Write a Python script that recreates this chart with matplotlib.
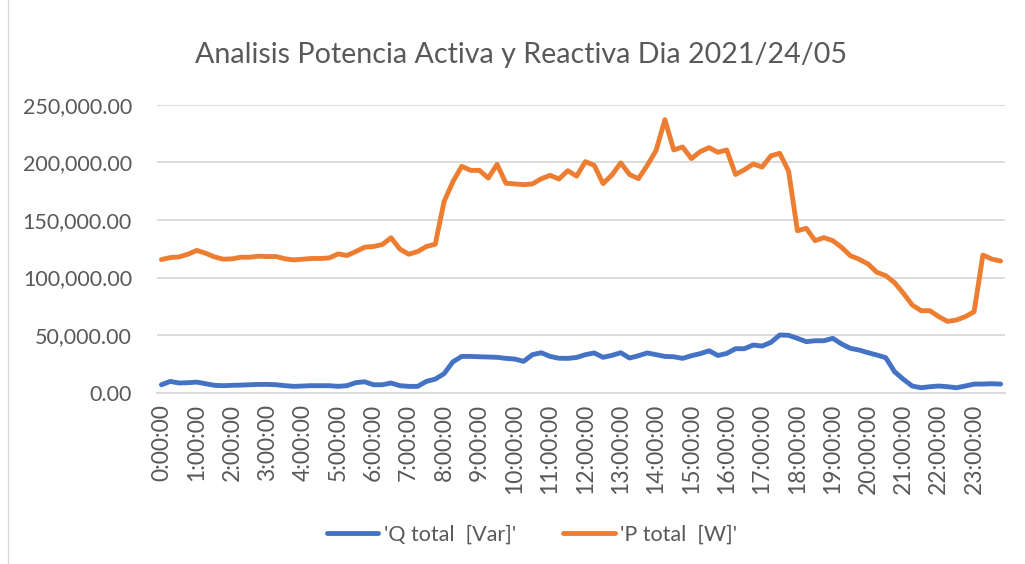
import matplotlib
matplotlib.use("Agg")
import matplotlib.pyplot as plt
from matplotlib.ticker import FuncFormatter
from matplotlib.lines import Line2D

plt.rcParams['font.family'] = ['Lato', 'DejaVu Sans']

# 15-minute readings, 0:00 .. 23:45
p_total = [115600, 117300, 117900, 120200, 123500, 121100, 117900, 115900,
           116200, 117600, 117600, 118500, 118200, 118200, 116200, 115300,
           115900, 116500, 116500, 117000, 120500, 119100, 122500, 126300,
           126900, 128600, 134500, 124600, 120200, 122500, 126900, 128900,
           165900, 183200, 196500, 193000, 193000, 186300, 198200, 181800,
           181200, 180600, 181200, 185700, 188700, 185500, 192700, 188000,
           200600, 197300, 181500, 189000, 199500, 189400, 185800, 197300,
           210300, 237000, 210700, 213300, 203200, 209300, 212700, 208700,
           210700, 189400, 193600, 198500, 195900, 205600, 207800, 192300,
           140600, 142700, 132000, 134600, 132000, 126200, 118900, 115800,
           111700, 104500, 101600, 95500, 86300, 76100, 71200, 71200,
           66000, 61900, 63100, 66000, 70300, 119500, 116000, 114300]

q_total = [6900, 9800, 8400, 8700, 9200, 7800, 6400, 6100,
           6400, 6600, 6900, 7200, 7200, 6900, 6100, 5500,
           5800, 6100, 6100, 6100, 5500, 6100, 8700, 9500,
           6900, 6900, 8400, 6100, 5500, 5500, 9800, 11800,
           16500, 26800, 31500, 31500, 31200, 31000, 30700, 29800,
           29200, 27200, 33000, 34700, 31500, 29900, 29800, 30600,
           33000, 34500, 30700, 32400, 34700, 30100, 32100, 34500,
           33000, 31500, 31200, 29800, 32100, 33900, 36400, 32300,
           34100, 38200, 38200, 41400, 40500, 43700, 50100, 49800,
           47200, 44300, 45100, 45100, 47200, 42300, 38500, 37000,
           34700, 32700, 30400, 18200, 11600, 5800, 4300, 5200,
           5800, 5200, 4300, 5800, 7500, 7500, 7800, 7500]

hour_labels = ["%d:00:00" % h for h in range(24)]

title = "Analisis Potencia Activa y Reactiva Dia 2021/24/05"
q_label = "'Q total  [Var]'"
p_label = "'P total  [W]'"

blue = "#4472C4"
orange = "#ED7D31"
text_grey = "#595959"
grid_grey = "#D9D9D9"

fig = plt.figure(figsize=(10.25, 5.64), dpi=100)
ax = fig.add_axes([157 / 1025, 1 - 392.7 / 564, 848 / 1025, 288 / 564])

x = list(range(len(p_total)))
ax.plot(x, q_total, color=blue, lw=3.5, solid_capstyle='round', solid_joinstyle='round')
ax.plot(x, p_total, color=orange, lw=3.5, solid_capstyle='round', solid_joinstyle='round')

ax.set_xlim(-0.5, len(p_total) - 0.5)
ax.set_ylim(0, 250000)
ax.set_yticks(range(0, 250001, 50000))
ax.yaxis.set_major_formatter(FuncFormatter(lambda v, pos: "{:,.2f}".format(v)))
ax.set_xticks(range(0, len(p_total), 4))
ax.set_xticklabels(hour_labels, rotation=90)

ax.grid(axis='y', color=grid_grey, lw=1.3)
ax.set_axisbelow(True)
for s in ['top', 'right', 'left']:
    ax.spines[s].set_visible(False)
ax.spines['bottom'].set_color(grid_grey)
ax.spines['bottom'].set_linewidth(1.3)
ax.tick_params(axis='both', length=0, labelcolor=text_grey)
ax.tick_params(axis='y', pad=18, labelsize=15.5)
ax.tick_params(axis='x', pad=8, labelsize=16.5)

fig.text(521 / 1025, 1 - 55 / 564, title, ha='center', va='center',
         fontsize=20.6, color=text_grey)

handles = [Line2D([], [], color=blue, lw=3.5, solid_capstyle='round'),
           Line2D([], [], color=orange, lw=3.5, solid_capstyle='round')]
fig.legend(handles, [q_label, p_label], loc='center', bbox_to_anchor=(532 / 1025, 1 - 535 / 564),
           ncol=2, frameon=False, fontsize=15.5, labelcolor=text_grey,
           handlelength=2.4, handletextpad=0.25, columnspacing=2.2)

fig.add_artist(Line2D([8 / 1025, 8 / 1025], [0, 1], transform=fig.transFigure,
                      color=grid_grey, lw=1))

fig.savefig("out.png", dpi=100)
